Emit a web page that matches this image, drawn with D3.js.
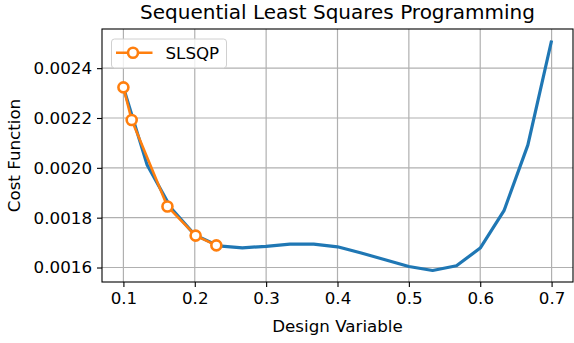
<!DOCTYPE html>
<html>
<head>
<meta charset="utf-8">
<script src="https://cdn.jsdelivr.net/npm/d3@7"></script>
<style>
  html, body { margin: 0; padding: 0; background: #fff; }
  svg text { font-family: "DejaVu Sans", sans-serif; fill: #000; }
</style>
</head>
<body>
<svg id="chart" width="574" height="343"></svg>
<script>
// Cost function sampled over the design variable
const designVariable = [0.1, 0.1333, 0.1667, 0.2, 0.2333, 0.2667, 0.3, 0.3333, 0.3667, 0.4,
                        0.4333, 0.4667, 0.5, 0.5333, 0.5667, 0.6, 0.6333, 0.6667, 0.7];
const costFunction = [0.002323, 0.002011, 0.001839, 0.001731, 0.001687, 0.001679, 0.001685,
                      0.001694, 0.001694, 0.001683, 0.001658, 0.001631, 0.001604, 0.001588,
                      0.001607, 0.001678, 0.001828, 0.002091, 0.002511];

// SLSQP optimizer iterates
const slsqpX = [0.1, 0.1116, 0.1617, 0.2012, 0.2302];
const slsqpY = [0.002323, 0.002192, 0.001845, 0.001728, 0.001689];

const xTicks = [0.1, 0.2, 0.3, 0.4, 0.5, 0.6, 0.7];
const yTicks = [0.0016, 0.0018, 0.0020, 0.0022, 0.0024];

const titleText = "Sequential Least Squares Programming";
const xLabel = "Design Variable";
const yLabel = "Cost Function";
const legendLabel = "SLSQP";

const svg = d3.select("#chart");
const plot = { left: 102, top: 29, right: 573, bottom: 282 };
const baseFont = "16.7px";

const allX = designVariable.concat(slsqpX);
const allY = costFunction.concat(slsqpY);
const xMin = d3.min(allX), xMax = d3.max(allX);
const yMin = d3.min(allY), yMax = d3.max(allY);
const xPad = (xMax - xMin) * 0.05, yPad = (yMax - yMin) * 0.05;

const x = d3.scaleLinear().domain([xMin - xPad, xMax + xPad]).range([plot.left, plot.right]);
const y = d3.scaleLinear().domain([yMin - yPad, yMax + yPad]).range([plot.bottom, plot.top]);

// grid
const grid = svg.append("g");
grid.selectAll(".gx").data(xTicks).enter().append("line")
  .attr("x1", d => x(d)).attr("x2", d => x(d))
  .attr("y1", plot.top).attr("y2", plot.bottom)
  .attr("stroke", "#b0b0b0").attr("stroke-width", 1.2);
grid.selectAll(".gy").data(yTicks).enter().append("line")
  .attr("y1", d => y(d)).attr("y2", d => y(d))
  .attr("x1", plot.left).attr("x2", plot.right)
  .attr("stroke", "#b0b0b0").attr("stroke-width", 1.2);

// axes
const xAxis = d3.axisBottom(x).tickValues(xTicks).tickFormat(d3.format(".1f")).tickSizeOuter(0).tickSize(5).tickPadding(5);
const yAxis = d3.axisLeft(y).tickValues(yTicks).tickFormat(d3.format(".4f")).tickSizeOuter(0).tickSize(5).tickPadding(5);

const gx = svg.append("g").attr("transform", `translate(0,${plot.bottom})`).call(xAxis);
const gy = svg.append("g").attr("transform", `translate(${plot.left},0)`).call(yAxis);
[gx, gy].forEach(g => {
  g.select(".domain").remove();
  g.selectAll(".tick line").attr("stroke", "#000").attr("stroke-width", 1.1);
  g.selectAll(".tick text").style("font-size", baseFont).style("font-family", "DejaVu Sans");
});

// lines
const line = d3.line().x(d => x(d[0])).y(d => y(d[1]));
svg.append("path")
  .datum(designVariable.map((d, i) => [d, costFunction[i]]))
  .attr("d", line).attr("fill", "none")
  .attr("stroke", "#1f77b4").attr("stroke-width", 3.2).attr("stroke-linejoin", "round");

const slsqp = slsqpX.map((d, i) => [d, slsqpY[i]]);
svg.append("path")
  .datum(slsqp).attr("d", line).attr("fill", "none")
  .attr("stroke", "#ff7f0e").attr("stroke-width", 2.6).attr("stroke-linejoin", "round");
svg.selectAll(".mk").data(slsqp).enter().append("circle")
  .attr("cx", d => x(d[0])).attr("cy", d => y(d[1])).attr("r", 5)
  .attr("fill", "#fff").attr("stroke", "#ff7f0e").attr("stroke-width", 2.6);

// frame
svg.append("rect")
  .attr("x", plot.left).attr("y", plot.top)
  .attr("width", plot.right - plot.left).attr("height", plot.bottom - plot.top)
  .attr("fill", "none").attr("stroke", "#000").attr("stroke-width", 1.1);

// legend
const lg = svg.append("g");
lg.append("rect").attr("x", 111.5).attr("y", 39).attr("width", 115).attr("height", 29)
  .attr("rx", 3).attr("fill", "#fff").attr("fill-opacity", 0.8)
  .attr("stroke", "#d0d0d0").attr("stroke-width", 1);
lg.append("line").attr("x1", 116).attr("x2", 152.5).attr("y1", 52.7).attr("y2", 52.7)
  .attr("stroke", "#ff7f0e").attr("stroke-width", 2.6);
lg.append("circle").attr("cx", 133).attr("cy", 52.7).attr("r", 5)
  .attr("fill", "#fff").attr("stroke", "#ff7f0e").attr("stroke-width", 2.6);
lg.append("text").attr("x", 165.5).attr("y", 58.5).style("font-size", baseFont).text(legendLabel);

// titles
svg.append("text").attr("x", (plot.left + plot.right) / 2).attr("y", 18.5)
  .attr("text-anchor", "middle").style("font-size", "20px").text(titleText);
svg.append("text").attr("x", (plot.left + plot.right) / 2).attr("y", 331.5)
  .attr("text-anchor", "middle").style("font-size", baseFont).text(xLabel);
svg.append("text").attr("transform", `translate(19.5,${(plot.top + plot.bottom) / 2}) rotate(-90)`)
  .attr("text-anchor", "middle").style("font-size", baseFont).text(yLabel);
</script>
</body>
</html>
